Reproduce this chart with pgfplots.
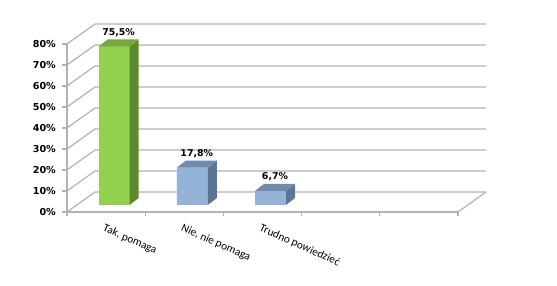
\documentclass[border=0pt]{standalone}
\usepackage{fontspec}
\setmainfont{Carlito}
\newfontfamily\dvb{DejaVu Sans}
\usepackage{pgfplots}
\pgfplotsset{compat=1.18}
\definecolor{gridc}{RGB}{178,178,178}
\definecolor{gfront}{RGB}{146,208,80}
\definecolor{gtop}{RGB}{119,168,63}
\definecolor{gside}{RGB}{94,138,46}
\definecolor{bfront}{RGB}{149,179,215}
\definecolor{btop}{RGB}{111,139,174}
\definecolor{bside}{RGB}{92,117,150}
\pgfdeclareplotmark{barside}{%
  \pgfmathsetmacro\hh{\barv*2.1}%
  \pgfpathmoveto{\pgfqpoint{15.5pt}{0pt}}%
  \pgfpathlineto{\pgfqpoint{24.5pt}{7pt}}%
  \pgfpathlineto{\pgfpoint{24.5pt}{7pt-\hh pt}}%
  \pgfpathlineto{\pgfpoint{15.5pt}{-\hh pt}}%
  \pgfpathclose
  \pgfusepathqfill}
\pgfdeclareplotmark{bartop}{%
  \pgfpathmoveto{\pgfqpoint{-15.5pt}{0pt}}%
  \pgfpathlineto{\pgfqpoint{15.5pt}{0pt}}%
  \pgfpathlineto{\pgfqpoint{24.5pt}{7pt}}%
  \pgfpathlineto{\pgfqpoint{-6.5pt}{7pt}}%
  \pgfpathclose
  \pgfusepathqfill}
\begin{document}
\begin{tikzpicture}
\useasboundingbox (0,0) rectangle (557pt,286pt);
% front frame with back wall
\begin{axis}[
  at={(67pt,74pt)}, anchor=south west,
  scale only axis, width=391pt, height=168pt,
  xmin=0, xmax=5, ymin=0, ymax=80,
  clip=false,
  axis lines*=left,
  axis line style={draw=gridc, line width=1.2pt},
  ytick={0,10,...,80},
  /pgf/number format/assume math mode=true,
  yticklabel={\pgfmathprintnumber{\tick}\%},
  yticklabel style={font=\dvb\bfseries\fontsize{9.6}{10}\selectfont, inner sep=0pt, xshift=-6pt},
  tick align=outside,
  major tick length=5pt,
  minor tick length=4pt,
  every tick/.style={draw=gridc, line width=1.2pt},
  every major x tick/.style={draw=none},
  xtick={0.5,1.5,2.5},
  xticklabels={{Tak, pomaga},{Nie, nie pomaga},{Trudno powiedzieć}},
  minor xtick={0,1,2,3,4,5},
  xticklabel style={font=\fontsize{11.3}{13}\selectfont, rotate=-24, anchor=north west, inner sep=0pt, xshift=2pt, yshift=-6pt},
]
\pgfplotsinvokeforeach{0,10,...,80}{
  \draw[gridc, line width=1.2pt] (axis cs:0,#1) -- ++(28pt,20pt) -- ++(391pt,0pt);
}
\draw[gridc, line width=1.2pt] (axis cs:5,0) -- ++(28pt,20pt);
\end{axis}
% bars plane
\begin{axis}[
  at={(75pt,81pt)}, anchor=south west,
  scale only axis, width=391pt, height=168pt,
  xmin=0, xmax=5, ymin=0, ymax=80,
  clip=false, hide axis,
]
\addplot[ybar, bar width=31pt, bar shift=0pt, fill=gfront, draw=none] coordinates {(0.5,75.5)};
\addplot[ybar, bar width=31pt, bar shift=0pt, fill=bfront, draw=none] coordinates {(1.5,17.8) (2.5,6.7)};
\addplot[only marks, mark=barside, mark options={fill=gside, draw=none}, visualization depends on={rawy \as \barv}] coordinates {(0.5,75.5)};
\addplot[only marks, mark=barside, mark options={fill=bside, draw=none}, visualization depends on={rawy \as \barv}] coordinates {(1.5,17.8) (2.5,6.7)};
\addplot[only marks, mark=bartop, mark options={fill=gtop, draw=none},
  point meta=y,
  nodes near coords={\pgfmathprintnumber[fixed,precision=1,zerofill,use comma,assume math mode=true]{\pgfplotspointmeta}\%},
  every node near coord/.style={anchor=base, xshift=4.5pt, yshift=11pt, inner sep=0pt, text=black, font=\dvb\bfseries\fontsize{9.4}{10}\selectfont}] coordinates {(0.5,75.5)};
\addplot[only marks, mark=bartop, mark options={fill=btop, draw=none},
  point meta=y,
  nodes near coords={\pgfmathprintnumber[fixed,precision=1,zerofill,use comma,assume math mode=true]{\pgfplotspointmeta}\%},
  every node near coord/.style={anchor=base, xshift=4.5pt, yshift=11pt, inner sep=0pt, text=black, font=\dvb\bfseries\fontsize{9.4}{10}\selectfont}] coordinates {(1.5,17.8) (2.5,6.7)};
\end{axis}
\end{tikzpicture}
\end{document}
